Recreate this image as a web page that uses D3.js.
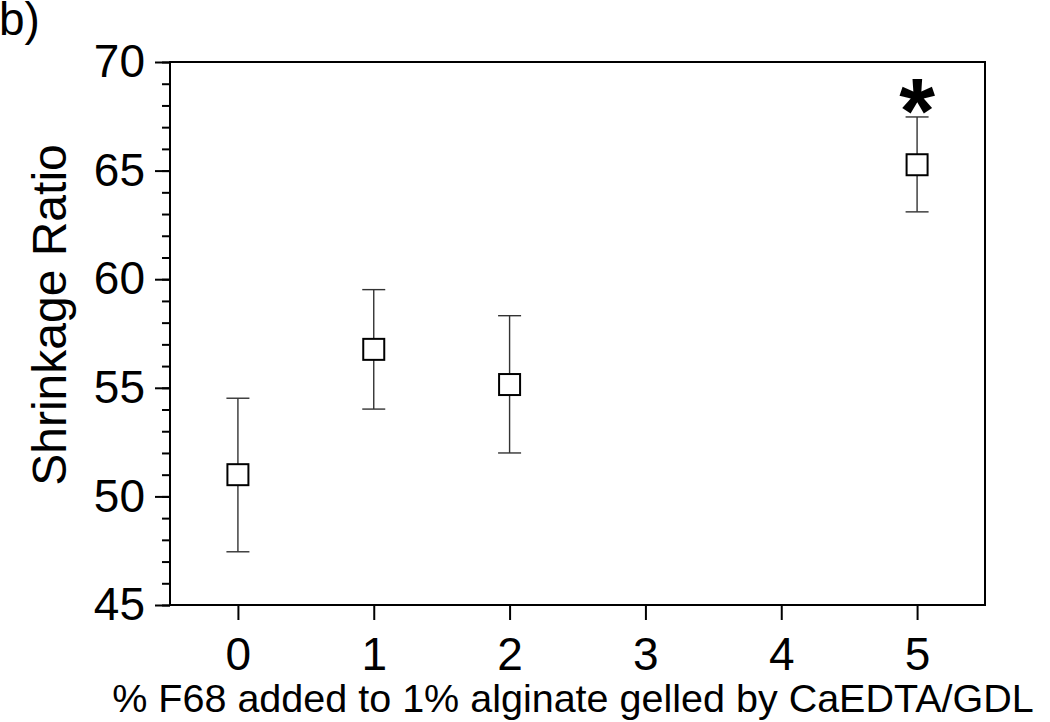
<!DOCTYPE html>
<html><head><meta charset="utf-8">
<script src="https://cdn.jsdelivr.net/npm/d3@7"></script>
<style>body{margin:0;background:#fff;}svg{display:block;}text{font-family:"Liberation Sans",Arial,sans-serif;fill:#000;}</style>
</head><body>
<script>
const xValues = [0, 1, 2, 5];
const means = [51.0, 56.77, 55.15, 65.27];
const upper = [54.52, 59.52, 58.32, 67.47];
const lower = [47.45, 54.02, 52.0, 63.1];
const xTicks = [0, 1, 2, 3, 4, 5];
const yTicks = [45, 50, 55, 60, 65, 70];
const yMinorTicks = d3.range(45, 71, 1);
const significant = [false, false, false, true];

const W = 1050, H = 722;
const margin = {left: 170, right: 65, top: 62, bottom: 117};
const svg = d3.select("body").append("svg").attr("width", W).attr("height", H);

const x = d3.scaleLinear().domain([-0.5, 5.5]).range([margin.left, W - margin.right]);
const y = d3.scaleLinear().domain([45, 70]).range([H - margin.bottom, margin.top]);

// frame
svg.append("rect").attr("x", x(-0.5)).attr("y", y(70))
  .attr("width", x(5.5) - x(-0.5)).attr("height", y(45) - y(70))
  .attr("fill", "none").attr("stroke", "#000").attr("stroke-width", 2);

// y axis minor ticks
const yMinor = svg.append("g").attr("transform", `translate(${x(-0.5)},0)`)
  .call(d3.axisLeft(y).tickValues(yMinorTicks).tickSize(8).tickFormat(""));
yMinor.select(".domain").remove();
yMinor.selectAll("line").attr("stroke-width", 2);

// y axis major
const yAx = svg.append("g").attr("transform", `translate(${x(-0.5)},0)`)
  .call(d3.axisLeft(y).tickValues(yTicks).tickSize(15).tickPadding(10).tickFormat(d3.format("d")));
yAx.select(".domain").remove();
yAx.selectAll("line").attr("stroke-width", 2);
yAx.selectAll("text").attr("font-size", 46).style("font-family", "Liberation Sans, Arial, sans-serif");

// x axis
const xAx = svg.append("g").attr("transform", `translate(0,${y(45)})`)
  .call(d3.axisBottom(x).tickValues(xTicks).tickSize(15).tickPadding(17).tickFormat(d3.format("d")));
xAx.select(".domain").remove();
xAx.selectAll("line").attr("stroke-width", 2);
xAx.selectAll("text").attr("font-size", 46).style("font-family", "Liberation Sans, Arial, sans-serif");

// error bars
const data = xValues.map((v, i) => ({x: v, m: means[i], hi: upper[i], lo: lower[i], sig: significant[i]}));
const eb = svg.append("g");
eb.selectAll(".v").data(data).join("line")
  .attr("x1", d => x(d.x)).attr("x2", d => x(d.x))
  .attr("y1", d => y(d.hi)).attr("y2", d => y(d.lo))
  .attr("stroke", "#333").attr("stroke-width", 1.4);
eb.selectAll(".cu").data(data).join("line")
  .attr("x1", d => x(d.x) - 11.5).attr("x2", d => x(d.x) + 11.5)
  .attr("y1", d => y(d.hi)).attr("y2", d => y(d.hi))
  .attr("stroke", "#333").attr("stroke-width", 1.4);
eb.selectAll(".cl").data(data).join("line")
  .attr("x1", d => x(d.x) - 11.5).attr("x2", d => x(d.x) + 11.5)
  .attr("y1", d => y(d.lo)).attr("y2", d => y(d.lo))
  .attr("stroke", "#333").attr("stroke-width", 1.4);

// markers
svg.append("g").selectAll("rect").data(data).join("rect")
  .attr("x", d => x(d.x) - 10.5).attr("y", d => y(d.m) - 10.5)
  .attr("width", 21).attr("height", 21)
  .attr("fill", "#fff").attr("stroke", "#000").attr("stroke-width", 2);

// significance asterisk
svg.append("g").selectAll("text").data(data.filter(d => d.sig)).join("text")
  .attr("x", d => x(d.x)).attr("y", d => y(d.hi) + 26)
  .attr("text-anchor", "middle").attr("font-size", 92).attr("font-weight", "bold")
  .text("*");

// axis titles
svg.append("text").attr("transform", `translate(66,315) rotate(-90)`)
  .attr("text-anchor", "middle").attr("font-size", 48).text("Shrinkage Ratio");
svg.append("text").attr("x", 573).attr("y", 712)
  .attr("text-anchor", "middle").attr("font-size", 39.5)
  .text("% F68 added to 1% alginate gelled by CaEDTA/GDL");

// panel label
svg.append("text").attr("x", -1).attr("y", 35).attr("font-size", 46).text("b)");
</script>
</body></html>
